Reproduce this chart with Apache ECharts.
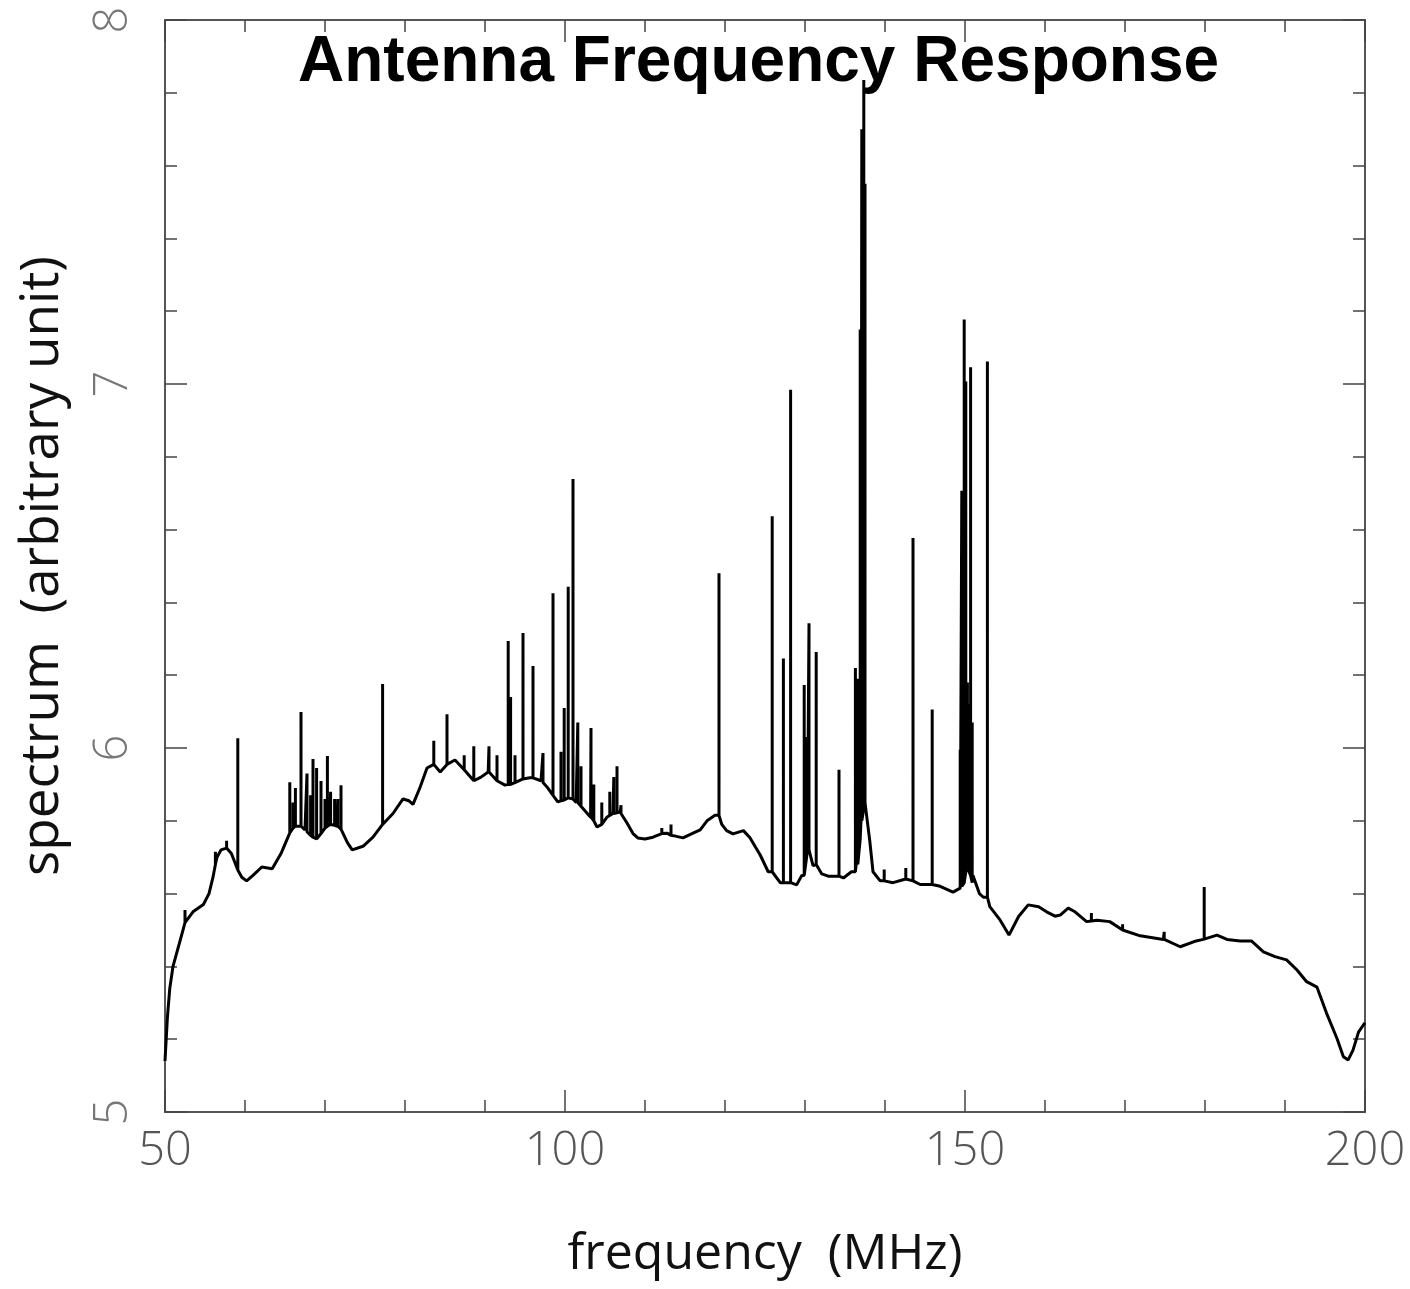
<!DOCTYPE html>
<html><head><meta charset="utf-8">
<script src="https://cdn.jsdelivr.net/npm/echarts@6/dist/echarts.min.js"></script>
<style>html,body{margin:0;padding:0;background:#fff}#c{width:1410px;height:1289px}</style>
</head><body><div id="c"></div>
<script>
// Smooth underlying spectrum (MHz, arbitrary units)
const baseFreq = [50.0,50.3,50.6,51.0,51.5,52.0,52.5,53.5,54.8,55.5,56.0,56.5,57.0,57.7,58.3,59.1,59.6,60.2,61.0,62.1,63.4,64.5,65.6,66.5,67.5,68.75,69.5,70.6,71.5,72.1,72.8,73.4,74.75,76.0,77.25,78.5,79.75,80.5,81.0,81.9,82.75,83.6,84.4,85.5,86.25,87.5,88.75,89.5,90.4,91.5,92.5,94.0,95.6,96.25,97.0,97.75,98.5,99.1,100.0,100.6,101.4,102.25,103.2,104.0,104.6,105.25,106.0,106.9,107.75,108.5,109.1,110.0,111.0,112.75,113.8,114.75,116.0,116.9,117.75,118.75,119.6,120.2,121.0,122.3,123.1,124.4,125.4,126.9,127.7,128.96,129.6,130.3,131.0,132.1,132.9,133.75,134.8,135.8,136.5,137.0,137.6,138.1,138.5,139.4,141.0,142.7,144.4,146.9,148.5,149.4,150.3,151.0,151.8,152.3,153.1,154.4,155.5,156.7,157.9,159.2,160.2,161.25,161.9,162.9,163.75,165.2,166.5,168.1,169.8,171.9,174.8,176.9,178.9,180.0,181.5,182.75,184.4,185.8,187.3,188.75,190.2,191.5,192.7,194.0,195.2,196.5,197.3,197.9,198.5,199.2,199.8,200.0];
const baseVal = [5.14,5.26,5.34,5.40,5.44,5.48,5.52,5.55,5.57,5.60,5.645,5.70,5.72,5.725,5.71,5.665,5.645,5.635,5.65,5.673,5.668,5.71,5.767,5.79,5.775,5.75,5.765,5.79,5.785,5.775,5.74,5.72,5.73,5.755,5.79,5.82,5.86,5.855,5.845,5.893,5.945,5.955,5.934,5.955,5.967,5.94,5.907,5.92,5.934,5.91,5.898,5.91,5.918,5.918,5.91,5.893,5.87,5.852,5.86,5.865,5.85,5.838,5.81,5.783,5.79,5.81,5.82,5.824,5.794,5.765,5.753,5.75,5.755,5.766,5.758,5.753,5.766,5.775,5.80,5.815,5.79,5.773,5.764,5.773,5.754,5.706,5.66,5.63,5.63,5.624,5.65,5.72,5.677,5.654,5.648,5.648,5.643,5.66,5.70,5.80,5.85,5.744,5.66,5.635,5.63,5.64,5.625,5.62,5.604,5.615,5.66,5.65,5.60,5.59,5.564,5.527,5.486,5.537,5.569,5.564,5.55,5.538,5.541,5.56,5.55,5.523,5.527,5.523,5.495,5.484,5.474,5.454,5.47,5.48,5.486,5.474,5.47,5.47,5.44,5.427,5.418,5.39,5.358,5.343,5.271,5.202,5.152,5.143,5.17,5.22,5.239,5.245];

// Narrow interference lines: frequency, level at the foot, level at the tip
const spikeFreq = [52.5,56.3,57.7,59.1,65.6,66.0,66.3,67.0,67.75,68.2,68.5,68.95,69.5,70.0,70.3,70.7,71.2,71.6,72.0,77.2,83.6,85.25,87.4,88.6,90.5,91.5,92.9,93.2,93.75,94.75,96.0,97.25,98.5,99.5,99.9,100.4,101.0,101.6,102.0,103.25,103.6,104.6,105.6,106.1,106.5,107.0,112.1,113.25,119.25,125.9,127.3,128.2,129.9,130.2,130.5,131.4,134.25,136.3,136.6,136.9,137.1,137.25,137.35,137.5,139.9,142.6,143.5,145.9,149.4,149.6,149.9,150.1,150.3,150.5,150.7,150.9,152.8,165.8,169.7,174.9,179.9];
const spikeBase = [5.52,5.68,5.725,5.665,5.767,5.78,5.785,5.785,5.77,5.76,5.755,5.75,5.765,5.78,5.785,5.79,5.788,5.785,5.777,5.79,5.955,5.955,5.94,5.91,5.934,5.91,5.90,5.90,5.905,5.915,5.918,5.905,5.87,5.855,5.857,5.863,5.86,5.85,5.84,5.81,5.80,5.79,5.815,5.82,5.822,5.82,5.765,5.76,5.815,5.66,5.63,5.63,5.65,5.70,5.72,5.68,5.648,5.66,5.68,5.75,5.80,5.82,5.85,5.85,5.635,5.64,5.635,5.625,5.615,5.62,5.63,5.66,5.66,5.66,5.65,5.63,5.59,5.525,5.50,5.474,5.475];
const spikeTop = [5.555,5.715,5.745,6.027,5.906,5.85,5.89,6.099,5.93,5.87,5.97,5.945,5.909,5.86,5.978,5.88,5.86,5.86,5.898,6.176,6.02,6.093,5.98,6.005,6.005,5.98,6.294,6.14,5.98,6.316,6.225,5.986,6.425,5.99,6.11,6.443,6.739,6.07,5.95,6.055,5.90,5.85,5.88,5.92,5.95,5.843,5.78,5.79,6.48,6.637,6.246,6.984,6.173,6.03,6.343,6.264,5.94,6.22,6.19,7.15,7.70,7.14,7.835,7.55,5.666,5.67,6.577,6.106,5.995,6.707,7.177,7.007,6.18,6.12,7.046,6.07,7.062,5.547,5.516,5.495,5.618];

const xTickValues = [50, 100, 150, 200];
const yTickValues = [5, 6, 7, 8];

const pts = baseFreq.map((f, i) => ({ f: f, seq: [[f, baseVal[i]]] }));
spikeFreq.forEach((f, i) => pts.push({ f: f, seq: [[f, spikeBase[i]], [f, spikeTop[i]], [f, spikeBase[i]]] }));
pts.sort((a, b) => a.f - b.f);
const lineData = pts.flatMap(p => p.seq);

const thinFont = "'Open Sans', 'Liberation Sans', sans-serif";
const axisCommon = {
  axisLine: { show: true, onZero: false, lineStyle: { color: '#555', width: 2 } },
  axisTick: { show: true, inside: true, length: 22, lineStyle: { color: '#444', width: 1.5 } },
  minorTick: { show: true, splitNumber: 5, length: 12, lineStyle: { color: '#444', width: 1.5 } },
  splitLine: { show: false },
  minorSplitLine: { show: false }
};

const chart = echarts.init(document.getElementById('c'), null, { renderer: 'canvas' });
chart.setOption({
  animation: false,
  backgroundColor: '#fff',
  title: {
    text: 'Antenna Frequency Response',
    left: 293, top: 26,
    textStyle: { fontFamily: "'Liberation Sans', Arial, sans-serif", fontWeight: 'bold', fontSize: 64, color: '#000' }
  },
  grid: { left: 165, right: 45, top: 20, bottom: 177, containLabel: false, outerBoundsMode: 'none' },
  xAxis: [
    Object.assign({}, axisCommon, {
      type: 'value', position: 'bottom', min: xTickValues[0], max: xTickValues[xTickValues.length - 1], interval: 50,
      axisLabel: { show: true, color: '#555', fontSize: 47, fontWeight: 300, fontFamily: thinFont, margin: 16 },
      name: 'frequency  (MHz)', nameLocation: 'middle', nameGap: 118,
      nameTextStyle: { fontSize: 50, fontWeight: 400, color: '#111', fontFamily: thinFont }
    }),
    Object.assign({}, axisCommon, {
      type: 'value', position: 'top', min: xTickValues[0], max: xTickValues[xTickValues.length - 1], interval: 50,
      axisLabel: { show: false }
    })
  ],
  yAxis: [
    Object.assign({}, axisCommon, {
      type: 'value', position: 'left', min: yTickValues[0], max: yTickValues[yTickValues.length - 1], interval: 1,
      axisLabel: { show: true, rotate: 90, color: '#777', fontSize: 47, fontWeight: 300, fontFamily: thinFont, margin: 28 },
      name: 'spectrum  (arbitrary unit)', nameLocation: 'middle', nameGap: 96, nameRotate: 90,
      nameTextStyle: { fontSize: 53, fontWeight: 400, color: '#111', fontFamily: thinFont }
    }),
    Object.assign({}, axisCommon, {
      type: 'value', position: 'right', min: yTickValues[0], max: yTickValues[yTickValues.length - 1], interval: 1,
      axisLabel: { show: false }
    })
  ],
  series: [{
    type: 'line', xAxisIndex: 0, yAxisIndex: 0,
    data: lineData, showSymbol: false, symbol: 'none', smooth: false,
    lineStyle: { color: '#000', width: 3 },
    z: 1
  }]
});
</script>
</body></html>
